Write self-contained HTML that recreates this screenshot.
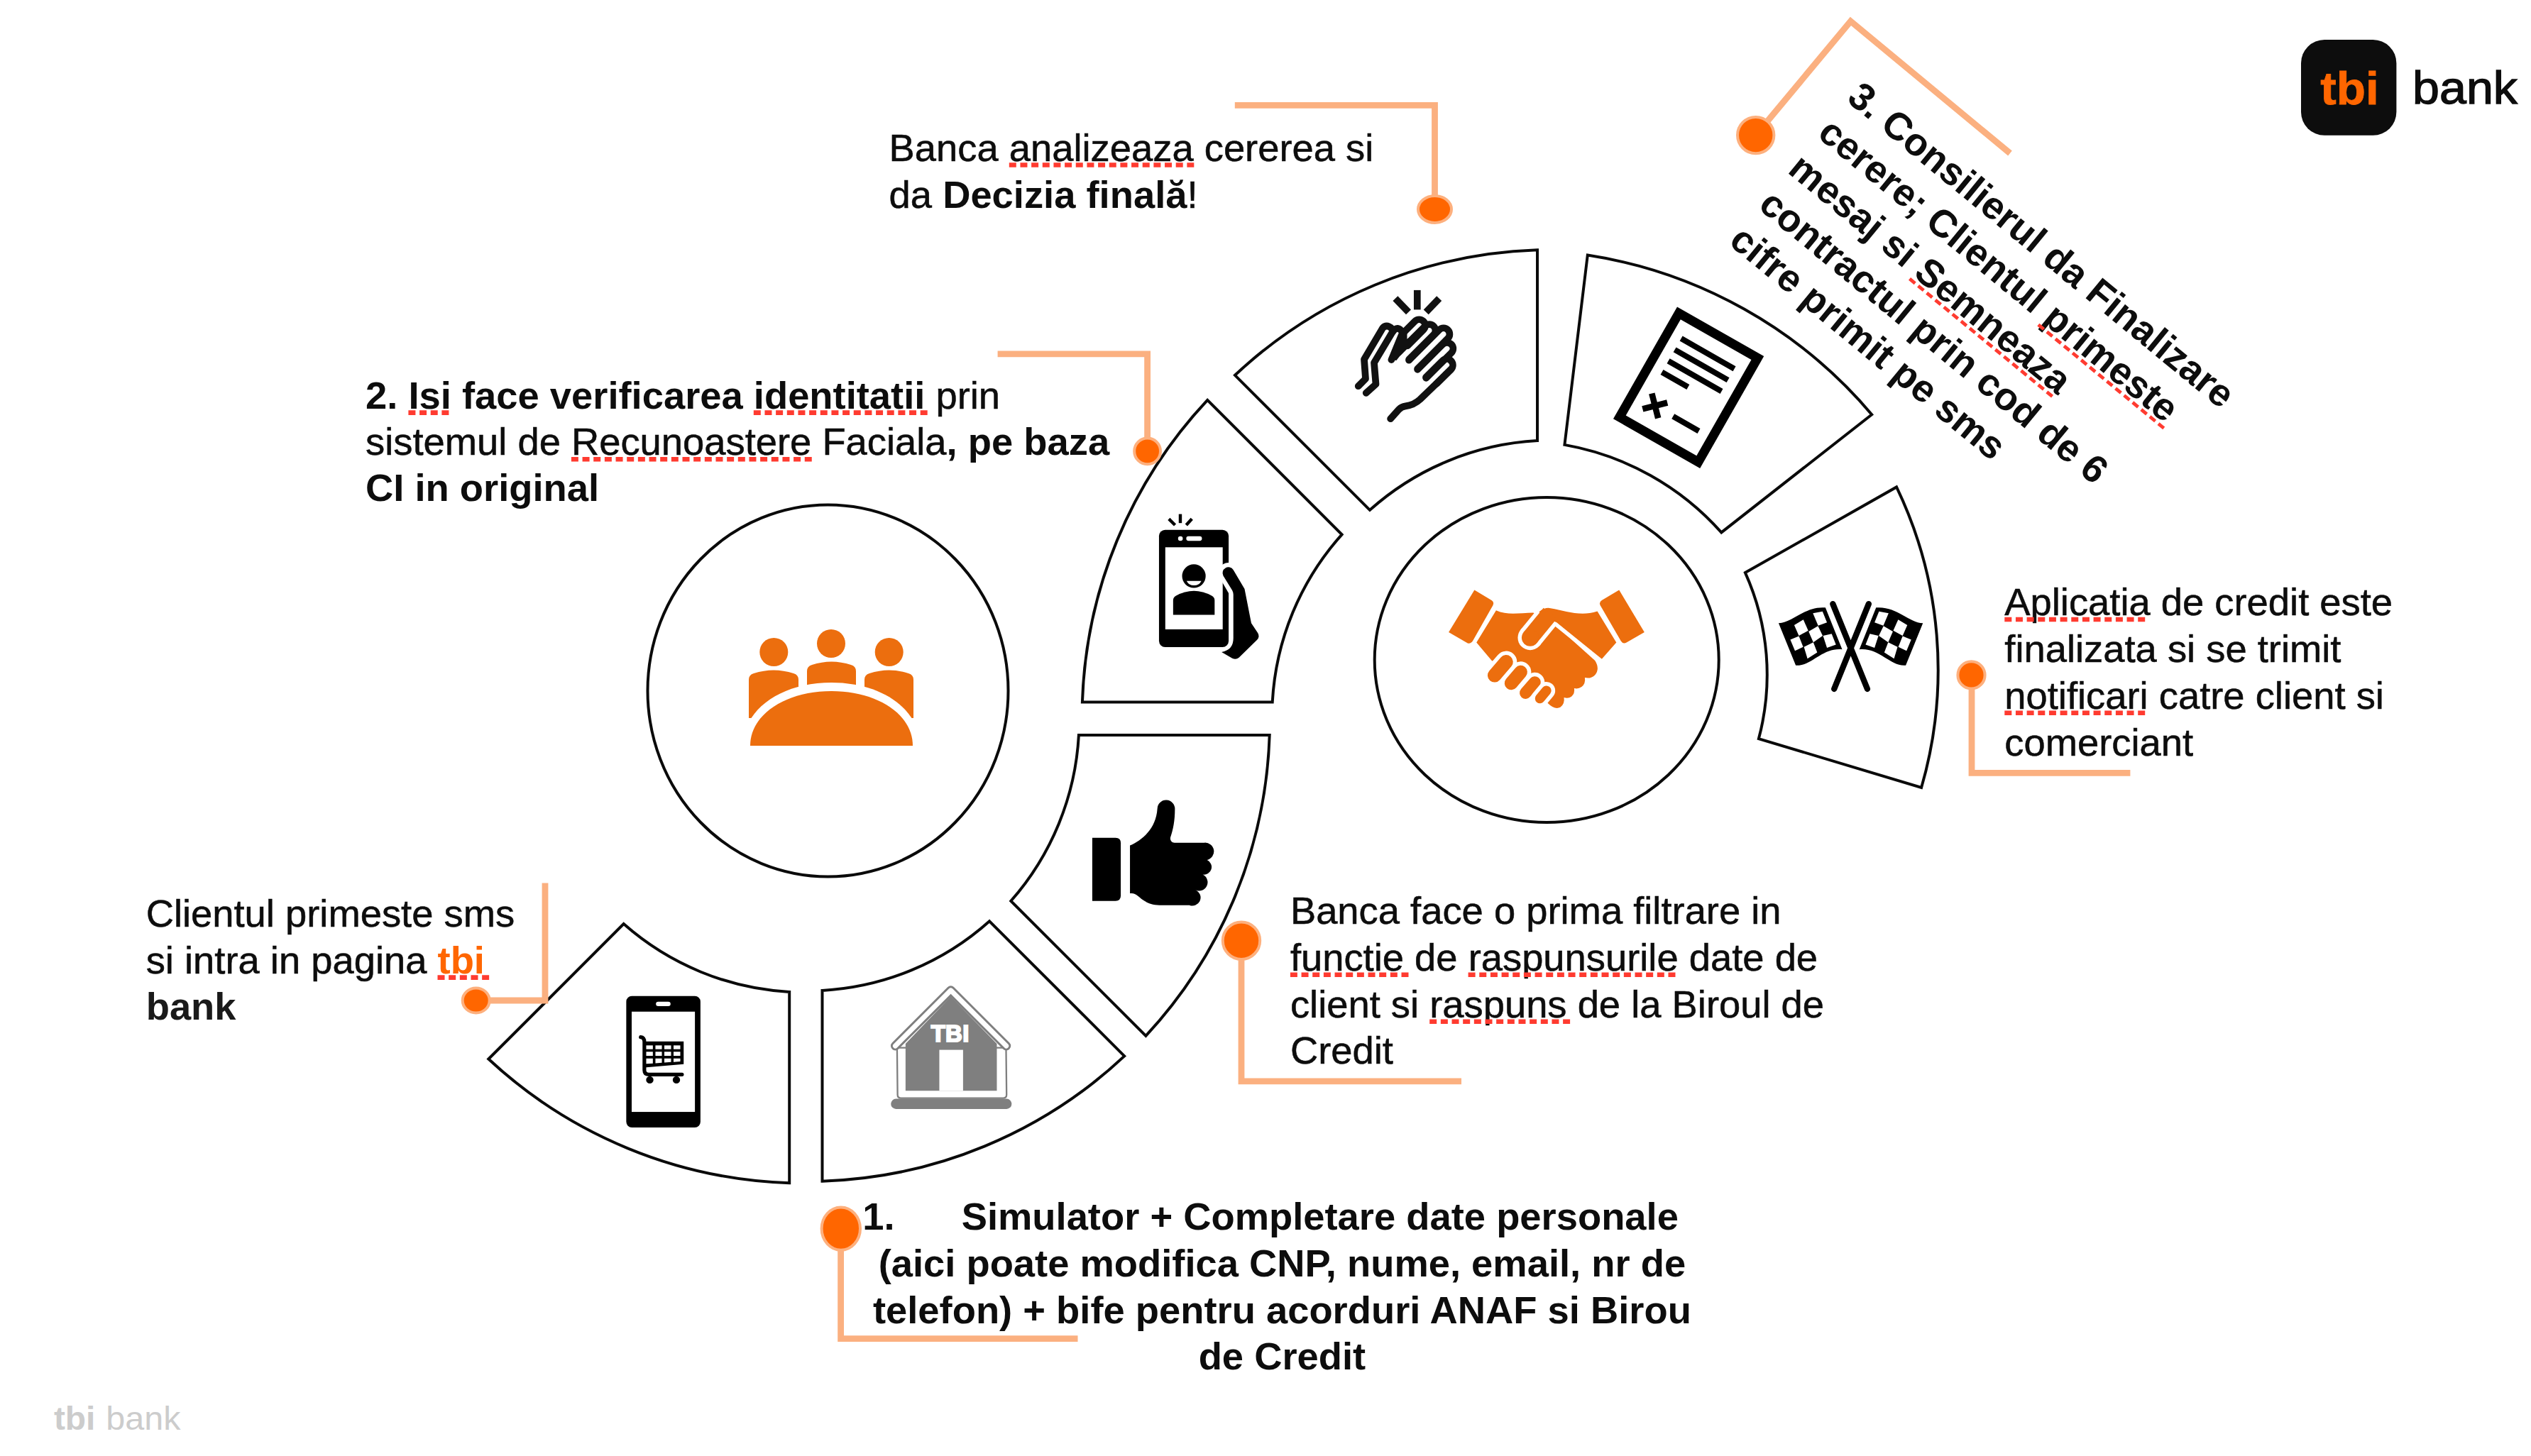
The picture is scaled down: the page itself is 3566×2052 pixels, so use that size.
<!DOCTYPE html>
<html lang="ro"><head><meta charset="utf-8"><title>tbi bank</title>
<style>html,body{margin:0;padding:0;background:#fff}body{width:3566px;height:2052px;overflow:hidden}svg{display:block}</style>
</head><body>
<svg width="3566" height="2052" viewBox="0 0 3566 2052">
<rect width="3566" height="2052" fill="#fff"/>
<g fill="#fff" stroke="#0A0A0A" stroke-width="4" stroke-linejoin="miter">
<path d="M1112.2,1397.9 L1112.2,1667.2 A653.0,653.0 0 0 1 688.3,1492.5 L878.7,1302.1 A384.0,384.0 0 0 0 1112.2,1397.9 Z"/>
<path d="M1394.1,1298.3 L1584.2,1488.4 A653.0,653.0 0 0 1 1158.5,1664.7 L1158.5,1395.9 A384.5,384.5 0 0 0 1394.1,1298.3 Z"/>
<path d="M1519.9,1036.0 L1788.7,1036.0 A654.0,654.0 0 0 1 1614.4,1459.9 L1424.3,1269.8 A385.5,385.5 0 0 0 1519.9,1036.0 Z"/>
<path d="M1792.7,989.6 L1524.9,989.6 A653.0,653.0 0 0 1 1701.2,563.9 L1890.6,753.3 A385.5,385.5 0 0 0 1792.7,989.6 Z"/>
<path d="M1930.0,718.8 L1740.0,528.8 A653.5,653.5 0 0 1 2166.0,352.3 L2166.0,621.1 A385.0,385.0 0 0 0 1930.0,718.8 Z"/>
<path d="M2204.4,626.9 L2236.8,359.6 A654.0,654.0 0 0 1 2637.2,584.2 L2425.3,750.4 A385.0,385.0 0 0 0 2204.4,626.9 Z"/>
<path d="M2458.9,807.1 L2672.1,686.4 A596,596 0 0 1 2707.1,1110 L2477.9,1041.1 A350,350 0 0 0 2458.9,807.1 Z"/>
<ellipse cx="1166.5" cy="973.5" rx="254" ry="262"/>
<ellipse cx="2179.2" cy="930" rx="242.5" ry="229"/>
</g>
<polyline points="1739.8,148.4 2021.5,148.4 2021.5,294.9" fill="none" stroke="#FBB080" stroke-width="8.8" stroke-linejoin="miter"/><ellipse cx="2021.5" cy="294.9" rx="23.5" ry="19.0" fill="#FF6600" stroke="#FDB07E" stroke-width="4"/>
<polyline points="1405.6,498.9 1616.6,498.9 1616.6,635.9" fill="none" stroke="#FBB080" stroke-width="8.8" stroke-linejoin="miter"/><ellipse cx="1616.6" cy="635.9" rx="18.4" ry="18.4" fill="#FF6600" stroke="#FDB07E" stroke-width="4"/>
<polyline points="768.0,1244.4 768.0,1410.0 670.7,1410.0" fill="none" stroke="#FBB080" stroke-width="8.8" stroke-linejoin="miter"/><ellipse cx="670.7" cy="1410.0" rx="19.0" ry="17.5" fill="#FF6600" stroke="#FDB07E" stroke-width="4"/>
<polyline points="1184.6,1730.0 1184.6,1886.6 1518.5,1886.6" fill="none" stroke="#FBB080" stroke-width="8.8" stroke-linejoin="miter"/><ellipse cx="1184.8" cy="1731.6" rx="27.2" ry="30.2" fill="#FF6600" stroke="#FDB07E" stroke-width="4"/>
<polyline points="1749.0,1325.7 1749.0,1523.9 2059.0,1523.9" fill="none" stroke="#FBB080" stroke-width="8.8" stroke-linejoin="miter"/><ellipse cx="1749.0" cy="1325.7" rx="26.2" ry="26.2" fill="#FF6600" stroke="#FDB07E" stroke-width="4"/>
<polyline points="2778.0,951.4 2778.0,1089.3 3001.4,1089.3" fill="none" stroke="#FBB080" stroke-width="8.8" stroke-linejoin="miter"/><ellipse cx="2777.5" cy="951.4" rx="19.1" ry="19.1" fill="#FF6600" stroke="#FDB07E" stroke-width="4"/>
<polyline points="2473.7,190.6 2607.4,29.9 2832.0,216.0" fill="none" stroke="#FBB080" stroke-width="8.8" stroke-linejoin="miter"/><ellipse cx="2473.7" cy="190.6" rx="25.7" ry="25.7" fill="#FF6600" stroke="#FDB07E" stroke-width="4"/>
<g font-family="'Liberation Sans', Arial, Helvetica, sans-serif" font-size="54.35" fill="#0D0D0D" stroke="#0D0D0D" stroke-width="0.55">
<text id="t1" x="1252.6" y="226.6" text-anchor="start" >Banca analizeaza cererea si</text><line x1="1421.8" y1="232.5" x2="1682.3" y2="232.5" stroke="#FF3B30" stroke-width="6.6" stroke-dasharray="10 5.66"/>
<text id="t2" x="1252.6" y="293.0" text-anchor="start" >da <tspan font-weight="700" stroke="none">Decizia finală</tspan>!</text>
<text id="t3" x="515.0" y="575.7" text-anchor="start" ><tspan font-weight="700" stroke="none">2. Isi face verificarea identitatii</tspan> prin</text><line x1="575.4" y1="581.6" x2="632.4" y2="581.6" stroke="#FF3B30" stroke-width="6.6" stroke-dasharray="10 5.66"/><line x1="1061.8" y1="581.6" x2="1306.7" y2="581.6" stroke="#FF3B30" stroke-width="6.6" stroke-dasharray="10 5.66"/>
<text id="t4" x="515.0" y="641.3" text-anchor="start" >sistemul de Recunoastere Faciala<tspan font-weight="700" stroke="none">, pe baza</tspan></text><line x1="804.9" y1="647.2" x2="1143.8" y2="647.2" stroke="#FF3B30" stroke-width="6.6" stroke-dasharray="10 5.66"/>
<text id="t5" x="515.0" y="706.4" text-anchor="start" ><tspan font-weight="700" stroke="none">CI in original</tspan></text>
<text id="t6" x="205.7" y="1305.5" text-anchor="start" >Clientul primeste sms</text>
<text id="t7" x="205.7" y="1371.7" text-anchor="start" >si intra in pagina <tspan font-weight="700" fill="#FF6600" stroke="none">tbi</tspan></text><line x1="616.5" y1="1377.6" x2="689.2" y2="1377.6" stroke="#FF3B30" stroke-width="6.6" stroke-dasharray="10 5.66"/>
<text id="t8" x="205.7" y="1437.1" text-anchor="start" ><tspan font-weight="700" stroke="none" fill="#1A1A1A">bank</tspan></text>
<text id="t9" x="1817.9" y="1302.4" text-anchor="start" >Banca face o prima filtrare in</text>
<text id="t10" x="1817.9" y="1367.8" text-anchor="start" >functie de raspunsurile date de</text><line x1="1817.9" y1="1373.7" x2="1984.5" y2="1373.7" stroke="#FF3B30" stroke-width="6.6" stroke-dasharray="10 5.66"/><line x1="2068.6" y1="1373.7" x2="2360.5" y2="1373.7" stroke="#FF3B30" stroke-width="6.6" stroke-dasharray="10 5.66"/>
<text id="t11" x="1817.9" y="1433.9" text-anchor="start" >client si raspuns de la Biroul de</text><line x1="2014.2" y1="1439.8" x2="2212.1" y2="1439.8" stroke="#FF3B30" stroke-width="6.6" stroke-dasharray="10 5.66"/>
<text id="t12" x="1817.9" y="1499.4" text-anchor="start" >Credit</text>
<text id="t13" x="2824.3" y="867.1" text-anchor="start" >Aplicatia de credit este</text><line x1="2824.3" y1="873.0" x2="3022.2" y2="873.0" stroke="#FF3B30" stroke-width="6.6" stroke-dasharray="10 5.66"/>
<text id="t14" x="2824.3" y="932.6" text-anchor="start" >finalizata si se trimit</text>
<text id="t15" x="2824.3" y="998.9" text-anchor="start" >notificari catre client si</text><line x1="2824.3" y1="1004.8" x2="3022.2" y2="1004.8" stroke="#FF3B30" stroke-width="6.6" stroke-dasharray="10 5.66"/>
<text id="t16" x="2824.3" y="1064.7" text-anchor="start" >comerciant</text>
<g font-weight="700" stroke="none">
<text id="t17" x="1215.3" y="1733.0" text-anchor="start" >1.</text>
<text id="t18" x="1354.7" y="1733.0" text-anchor="start" >Simulator + Completare date personale</text>
<text id="t19" x="1806.4" y="1798.5" text-anchor="middle" >(aici poate modifica CNP, nume, email, nr de</text>
<text id="t20" x="1806.4" y="1864.6" text-anchor="middle" >telefon) + bife pentru acorduri ANAF si Birou</text>
<text id="t21" x="1806.4" y="1930.1" text-anchor="middle" >de Credit</text>
</g>
<g font-weight="700" stroke="none" transform="translate(2600.3,141.4) rotate(39.5)">
<text id="t22" x="0.0" y="0.0" text-anchor="start" >3. Consilierul da Finalizare</text>
<text id="t23" x="0.0" y="65.4" text-anchor="start" >cerere; Clientul primeste</text><line x1="410.7" y1="71.3" x2="640.0" y2="71.3" stroke="#FF3B30" stroke-width="4.8" stroke-dasharray="10 5.66"/>
<text id="t24" x="0.0" y="130.8" text-anchor="start" >mesaj si Semneaza</text><line x1="229.6" y1="136.7" x2="490.2" y2="136.7" stroke="#FF3B30" stroke-width="4.8" stroke-dasharray="10 5.66"/>
<text id="t25" x="0.0" y="196.2" text-anchor="start" >contractul prin cod de 6</text>
<text id="t26" x="0.0" y="261.6" text-anchor="start" >cifre primit pe sms</text>
</g>
</g>
<g fill="#EC6E0E"><circle cx="1090.3" cy="919" r="20"/><circle cx="1171" cy="907" r="20"/><circle cx="1252.7" cy="919" r="20"/><path d="M1055,1012 L1055,958 Q1055,951 1062,949 Q1090,940 1118,949 Q1125,951 1125,958 L1125,1012 Z"/><path d="M1137,1000 L1137,946 Q1137,939 1144,937 Q1171.5,928 1199,937 Q1206,939 1206,946 L1206,1000 Z"/><path d="M1218,1012 L1218,958 Q1218,951 1225,949 Q1252.5,940 1280,949 Q1287,951 1287,958 L1287,1012 Z"/></g><path d="M1047,1051 C1047,1000 1100,962 1171.5,962 C1243,962 1296,1000 1296,1051 L1296,1060 L1047,1060 Z" fill="#fff"/><path d="M1057,1051 C1057,1006 1108,974 1171.5,974 C1235,974 1286,1006 1286,1051 Z" fill="#EC6E0E"/>
<g transform="translate(860,1390) scale(0.14418)" ><rect x="155" y="95" width="725" height="1285" rx="55" fill="#000"/><rect x="208" y="248" width="618" height="980" fill="#fff"/><rect x="445" y="150" width="143" height="45" rx="22.5" fill="#fff"/><path d="M296,497 Q332,500 332,545 L332,820 Q332,862 375,862 L700,862" fill="none" stroke="#000" stroke-width="36" stroke-linecap="round" stroke-linejoin="round"/><path d="M332,540 L716,540 L716,762 L332,795 Z" fill="#000"/><rect x="350" y="578" width="65" height="37" fill="#fff"/><rect x="350" y="640" width="65" height="40" fill="#fff"/><path d="M350,705 L415,705 L415,753.5 L350,758.0 Z" fill="#fff"/><rect x="440" y="578" width="63" height="37" fill="#fff"/><rect x="440" y="640" width="63" height="40" fill="#fff"/><path d="M440,705 L503,705 L503,747.4 L440,751.8 Z" fill="#fff"/><rect x="527" y="578" width="66" height="37" fill="#fff"/><rect x="527" y="640" width="66" height="40" fill="#fff"/><path d="M527,705 L593,705 L593,741.2 L527,745.8 Z" fill="#fff"/><rect x="617" y="578" width="66" height="37" fill="#fff"/><rect x="617" y="640" width="66" height="40" fill="#fff"/><path d="M617,705 L683,705 L683,735.0 L617,739.6 Z" fill="#fff"/><circle cx="385" cy="915" r="36" fill="#000"/><circle cx="645" cy="915" r="36" fill="#000"/></g>
<g transform="translate(1230,1370) scale(0.14420)" ><rect x="175" y="1238" width="1180" height="100" rx="50" fill="#7F7F7F"/><path d="M235,740 L1300,740 L1305,1200 Q1305,1232 1270,1232 L275,1232 Q240,1232 240,1200 Z" fill="#fff" stroke="#7F7F7F" stroke-width="16" stroke-linejoin="round"/><path d="M760,240 L1210,700 L1210,1160 L318,1160 L318,700 Z" fill="#7F7F7F"/><rect x="648" y="760" width="232" height="400" fill="#fff"/><path d="M218,721 L760,179 L1302,721" fill="none" stroke="#7F7F7F" stroke-width="90" stroke-linecap="round" stroke-linejoin="round"/><path d="M218,721 L760,179 L1302,721" fill="none" stroke="#fff" stroke-width="48" stroke-linecap="round" stroke-linejoin="round"/><text x="567" y="683" font-family="'Liberation Sans',Arial,sans-serif" font-weight="700" font-size="228" fill="#fff" stroke="#fff" stroke-width="14" letter-spacing="2">TBI</text></g>
<g transform="translate(1520,1110) scale(0.12361)" ><path d="M153,573 L418,573 Q478,573 478,633 L478,1232 Q478,1292 418,1292 L153,1292 Z" fill="#000"/><path d="M583,660 C720,600 880,470 895,240 A100,100 0 0 1 1095,245 C1095,380 1075,480 1045,565 C1035,600 1060,628 1090,628 L1430,628 A100,100 0 0 1 1462,825 A88,88 0 0 1 1412,992 A88,88 0 0 1 1330,1168 A88,88 0 0 1 1260,1340 L920,1340 C780,1340 720,1270 660,1225 C630,1205 610,1205 583,1205 Z" fill="#000"/></g>
<g transform="translate(1620,710) scale(0.15800)" ><rect x="82" y="232" width="621" height="1046" rx="55" fill="#000"/><rect x="138" y="388" width="512" height="732" fill="#fff"/><circle cx="273" cy="310" r="21" fill="#fff"/><rect x="325" y="290" width="140" height="40" rx="20" fill="#fff"/><g stroke="#000" stroke-width="28"><path d="M170,135 L225,190"/><path d="M272,92 L272,172"/><path d="M375,135 L325,190"/></g><circle cx="393" cy="645" r="105" fill="#000"/><path d="M328,688 L460,688 Q440,728 394,728 Q348,728 328,688 Z" fill="#fff"/><path d="M208,990 L208,860 Q208,835 235,820 Q393,735 551,820 Q578,835 578,860 L578,990 Z" fill="#000"/><path d="M700,615 L790,770" stroke="#fff" stroke-width="178" stroke-linecap="round" fill="none"/><path d="M655,642 A52,52 0 0 1 745,590 L845,760 L905,1065 L962,1150 Q985,1185 955,1215 L795,1372 Q768,1395 735,1378 L640,1322 Q745,1305 745,1200 L745,810 Q745,790 735,772 Z" fill="#000"/></g>
<g fill="none" stroke="#111" stroke-width="9.7" stroke-linecap="round" stroke-linejoin="round"><g stroke-linecap="butt"><path d="M1965.9,420.6 L1984.5,439.8"/><path d="M1996.8,408.9 L1996.8,436.4"/><path d="M2027.7,420.6 L2009.2,439.8"/></g><path d="M1913.7,544.2 L1924.0,533.9 L1922.0,506.4 L1948.3,462.1 A8.0,8.0 0 0 1 1962.1,467.6 L1936.0,511.2 L1938.5,541.5 L1924.7,553.8 "/><path d="M1962.1,467.6 Q1969.4,457.7 1976.2,468.7 L1960.4,507.1 "/><path d="M2009.0,531.8 L2032.4,508.4 A8.5,8.5 0 0 1 2044.4,520.5 L2024.1,540.8"/><path d="M1997.2,520.9 L2032.7,485.3 A8.5,8.5 0 0 1 2044.8,497.4 L2009.3,532.9"/><path d="M1985.1,507.7 L2027.8,464.9 A8.5,8.5 0 0 1 2039.9,477.0 L1997.2,519.8"/><path d="M1970.4,497.0 L2007.8,459.6 A8.5,8.5 0 0 1 2019.9,471.7 L1985.2,506.5"/><path d="M1977.4,468.9 L1993.4,452.8 A8.5,8.5 0 0 1 2005.5,464.9 L1983.1,487.4"/><path d="M2044.5,520.5 L2000.9,562.8 Q1992.0,571.0 1980.3,572.4 Q1974.9,573.1 1970.7,577.2 L1959.1,590.2 "/></g><path d="M1982.5,464.9 L1982.5,477.8 L1993.1,475.5 L1967.4,508.0 L1956.8,506.5 L1972.7,474.0 L1974.9,462.7 Z" fill="#111"/>
<g transform="translate(2363,432.4) rotate(29.7)"><rect x="6.5" y="6.5" width="127.7" height="168.7" fill="#fff" stroke="#000" stroke-width="13"/><rect x="27" y="32" width="86.3" height="8" fill="#000"/><rect x="27" y="50.2" width="86.3" height="8" fill="#000"/><rect x="27" y="68.4" width="86.3" height="8" fill="#000"/><rect x="27" y="86.7" width="42.4" height="8" fill="#000"/><g transform="translate(42,136.7) rotate(-44)"><rect x="-18" y="-4.3" width="36" height="8.6" fill="#000"/><rect x="-4.3" y="-18" width="8.6" height="36" fill="#000"/></g><rect x="71.5" y="133" width="41.8" height="8" fill="#000"/></g>
<g transform="translate(2490,830) scale(0.10989)" ><path d="M145,440 C330,430 480,220 745,240 L960,775 C700,750 560,1000 365,980 Z" fill="#000"/><path d="M345,465 L462,393 L525,535 L405,600 Z" fill="#fff"/><path d="M585,312 L708,290 L765,430 L652,470 Z" fill="#fff"/><path d="M295,650 L405,605 L460,745 L355,795 Z" fill="#fff"/><path d="M530,545 L650,475 L710,600 L590,685 Z" fill="#fff"/><path d="M470,745 L590,685 L640,815 L515,895 Z" fill="#fff"/><path d="M715,600 L825,575 L880,715 L765,755 Z" fill="#fff"/><g transform="translate(2140,0) scale(-1,1)"><path d="M145,440 C330,430 480,220 745,240 L960,775 C700,750 560,1000 365,980 Z" fill="#000"/><path d="M345,465 L462,393 L525,535 L405,600 Z" fill="#fff"/><path d="M585,312 L708,290 L765,430 L652,470 Z" fill="#fff"/><path d="M295,650 L405,605 L460,745 L355,795 Z" fill="#fff"/><path d="M530,545 L650,475 L710,600 L590,685 Z" fill="#fff"/><path d="M470,745 L590,685 L640,815 L515,895 Z" fill="#fff"/><path d="M715,600 L825,575 L880,715 L765,755 Z" fill="#fff"/></g><path d="M840,192 L1283,1283 M1300,192 L857,1283" stroke="#000" stroke-width="76" stroke-linecap="round" fill="none"/></g>
<g transform="translate(2030,820) scale(0.13050)" ><g fill="#EC6E0E"><path d="M363,88 L548,200 Q580,222 562,255 L345,638 Q322,672 290,662 L85,545 Z"/><path d="M1925,88 L2198,545 L2005,655 Q1968,675 1945,640 L1722,255 Q1705,222 1738,200 Z"/><path d="M597,308 C720,365 850,335 998,333 L1240,470 L1665,850 Q1720,940 1665,1005 Q1620,1050 1555,1035 Q1565,1100 1520,1135 Q1485,1160 1440,1150 Q1450,1205 1410,1240 Q1375,1265 1330,1250 Q1340,1320 1290,1355 Q1230,1385 1155,1310 L548,848 L385,655 Z"/></g><path d="M705,865 L580,1010" stroke="#fff" stroke-width="234" stroke-linecap="round"/><path d="M705,865 L580,1010" stroke="#EC6E0E" stroke-width="150" stroke-linecap="round"/><path d="M862,975 L760,1095" stroke="#fff" stroke-width="228" stroke-linecap="round"/><path d="M862,975 L760,1095" stroke="#EC6E0E" stroke-width="144" stroke-linecap="round"/><path d="M1015,1085 L915,1200" stroke="#fff" stroke-width="212" stroke-linecap="round"/><path d="M1015,1085 L915,1200" stroke="#EC6E0E" stroke-width="128" stroke-linecap="round"/><path d="M1140,1175 L1070,1260" stroke="#fff" stroke-width="190" stroke-linecap="round"/><path d="M1140,1175 L1070,1260" stroke="#EC6E0E" stroke-width="106" stroke-linecap="round"/><path d="M1180,340 L965,603" stroke="#fff" stroke-width="268" stroke-linecap="butt"/><circle cx="965" cy="603" r="134" fill="#fff"/><path d="M1060,325 Q1125,272 1185,285 C1350,310 1500,380 1690,318 L1895,655 L1733,839 L1245,436 L1170,400 Z" fill="#EC6E0E"/><path d="M1180,340 L965,603" stroke="#EC6E0E" stroke-width="184" stroke-linecap="butt"/><circle cx="965" cy="603" r="92" fill="#EC6E0E"/><path d="M1232,452 L1735,858" stroke="#fff" stroke-width="42" stroke-linecap="butt"/></g>
<rect x="3242" y="56" width="134.4" height="134.8" rx="33" fill="#0D0D0D"/><text x="3269.2" y="146.6" font-family="'Liberation Sans',Arial,Helvetica,sans-serif" font-weight="700" font-size="65" fill="#FF6600" stroke="#FF6600" stroke-width="0.8" textLength="82.5" lengthAdjust="spacingAndGlyphs">tbi</text><text x="3399" y="146" font-family="'Liberation Sans',Arial,Helvetica,sans-serif" font-size="65" fill="#0D0D0D" stroke="#0D0D0D" stroke-width="1.3" textLength="148" lengthAdjust="spacingAndGlyphs">bank</text><text x="75.9" y="2014.7" font-family="'Liberation Sans',Arial,Helvetica,sans-serif" font-weight="700" font-size="46" fill="#CCCCCC" textLength="58.5" lengthAdjust="spacingAndGlyphs">tbi</text><text x="149.3" y="2014.7" font-family="'Liberation Sans',Arial,Helvetica,sans-serif" font-size="46" fill="#CCCCCC" textLength="105.2" lengthAdjust="spacingAndGlyphs">bank</text>
</svg>
</body></html>
